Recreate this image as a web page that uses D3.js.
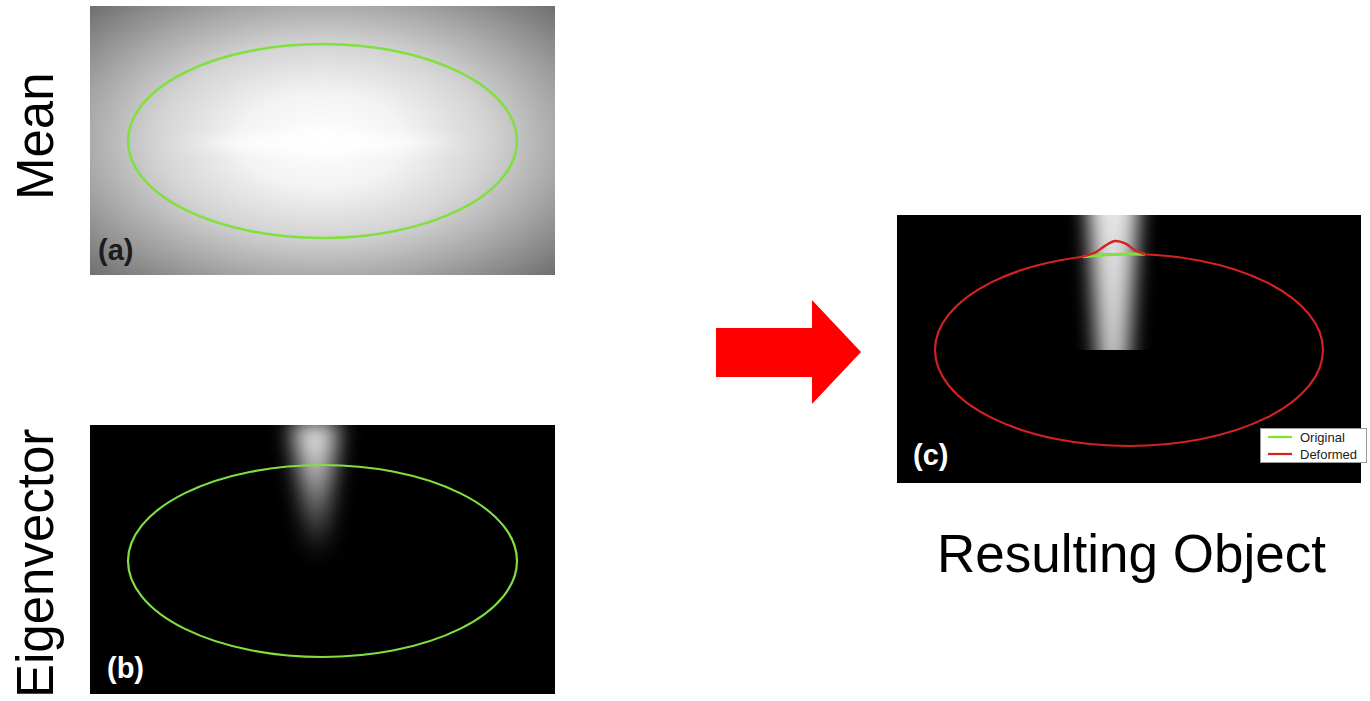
<!DOCTYPE html>
<html>
<head>
<meta charset="utf-8">
<script src="https://cdn.jsdelivr.net/npm/d3@7"></script>
<style>
  body { margin: 0; background: #fff; }
  svg { display: block; }
  text { font-family: "Liberation Sans", Arial, sans-serif; }
</style>
</head>
<body>
<svg id="fig" width="1370" height="701"></svg>
<script>
// shape model values, in units of the mean ellipse (centre 0,0, semi-axes 1)
const rowTitles = ['Mean', 'Eigenvector'];
const panelLabels = ['(a)', '(b)', '(c)'];
const meanShape = { cx: 0, cy: 0, rx: 1, ry: 1 };
// eigenvector intensity beam: centre x, top/bottom y and half widths
const eigenBeam = [
  { y: -1.45, x: -0.04, half: 0.12 },
  { y: -0.03, x: -0.025, half: 0.04 }
];
const resultBeam = [
  { y: -1.45, x: -0.082, half: 0.13 },
  { y: 0.0, x: -0.082, half: 0.085 }
];
// deformed contour bump on top of the ellipse
const bumpX = [-0.237, -0.17, -0.12, -0.072, -0.02, 0.03, 0.082];
const bumpY = [-0.972, -1.02, -1.09, -1.135, -1.11, -1.04, -0.997];
const legendNames = ['Original', 'Deformed'];
const resultTitle = 'Resulting Object';

const GREEN = '#7fe040';
const RED = '#d42222';

const svg = d3.select('#fig');
const defs = svg.append('defs');

// panel (a) background: grey vignette
const vignette = defs.append('radialGradient').attr('id', 'vignette')
  .attr('cx', '50%').attr('cy', '50%').attr('r', '71%');
[[0, '#ffffff'], [0.25, '#f3f3f3'], [0.5, '#d4d4d4'], [0.72, '#a8a8a8'], [1, '#6e6e6e']]
  .forEach(s => vignette.append('stop').attr('offset', s[0]).attr('stop-color', s[1]));

defs.append('filter').attr('id', 'soft').attr('x', '-60%').attr('y', '-50%')
  .attr('width', '220%').attr('height', '200%')
  .append('feGaussianBlur').attr('stdDeviation', 11);
defs.append('filter').attr('id', 'softX').attr('x', '-60%').attr('y', '-10%')
  .attr('width', '220%').attr('height', '120%')
  .append('feGaussianBlur').attr('stdDeviation', '10 0.6');
defs.append('filter').attr('id', 'streak').attr('x', '-50%').attr('y', '-100%')
  .attr('width', '200%').attr('height', '300%')
  .append('feGaussianBlur').attr('stdDeviation', '30 6');

const fade = defs.append('linearGradient').attr('id', 'fade')
  .attr('x1', 0).attr('y1', 0).attr('x2', 0).attr('y2', 1);
[[0, 0.95], [0.35, 0.7], [0.75, 0.28], [1, 0]]
  .forEach(s => fade.append('stop').attr('offset', s[0]).attr('stop-color', '#fff').attr('stop-opacity', s[1]));
const fadeC = defs.append('linearGradient').attr('id', 'fadeC')
  .attr('x1', 0).attr('y1', 0).attr('x2', 0).attr('y2', 1);
[[0, 0.9], [1, 0.78]]
  .forEach(s => fadeC.append('stop').attr('offset', s[0]).attr('stop-color', '#fff').attr('stop-opacity', s[1]));

// panel boxes in page pixels and the pixel position of the ellipse inside them
function makePanel(id, box, ell) {
  const x = d3.scaleLinear().domain([-1, 1]).range([ell.cx - ell.rx, ell.cx + ell.rx]);
  const y = d3.scaleLinear().domain([-1, 1]).range([ell.cy - ell.ry, ell.cy + ell.ry]);
  defs.append('clipPath').attr('id', 'clip-' + id)
    .append('rect').attr('x', box.x).attr('y', box.y).attr('width', box.w).attr('height', box.h);
  const g = svg.append('g').attr('clip-path', 'url(#clip-' + id + ')');
  return { g, x, y, box };
}

function drawBeam(p, beam, fill, filter) {
  const pts = [
    [p.x(beam[0].x - beam[0].half), p.y(beam[0].y)],
    [p.x(beam[0].x + beam[0].half), p.y(beam[0].y)],
    [p.x(beam[1].x + beam[1].half), p.y(beam[1].y)],
    [p.x(beam[1].x - beam[1].half), p.y(beam[1].y)]
  ];
  p.g.append('path')
    .attr('d', 'M' + pts.join('L') + 'Z')
    .attr('fill', fill)
    .attr('filter', filter);
}

function drawEllipse(p, color, width) {
  p.g.append('ellipse')
    .attr('cx', p.x(meanShape.cx)).attr('cy', p.y(meanShape.cy))
    .attr('rx', p.x(meanShape.rx) - p.x(0)).attr('ry', p.y(meanShape.ry) - p.y(0))
    .attr('fill', 'none').attr('stroke', color).attr('stroke-width', width);
}

function drawLabel(p, text, color, dx, dy) {
  p.g.append('text')
    .attr('x', p.box.x + dx).attr('y', p.box.y + p.box.h - dy)
    .attr('font-size', 29).attr('font-weight', 'bold')
    .attr('fill', color).text(text);
}

// (a) mean
const pa = makePanel('a', { x: 90, y: 6, w: 465, h: 269 }, { cx: 322.5, cy: 141, rx: 194.5, ry: 97 });
pa.g.append('rect').attr('x', 90).attr('y', 6).attr('width', 465).attr('height', 269).attr('fill', 'url(#vignette)');
pa.g.append('ellipse')
  .attr('cx', pa.x(0)).attr('cy', pa.y(0.02))
  .attr('rx', pa.x(0.55) - pa.x(0)).attr('ry', pa.y(0.1) - pa.y(0))
  .attr('fill', '#fff').attr('opacity', 0.9).attr('filter', 'url(#streak)');
drawEllipse(pa, GREEN, 2.6);
drawLabel(pa, panelLabels[0], '#1c1c1c', 8, 15);

// (b) eigenvector
const pb = makePanel('b', { x: 90, y: 425, w: 465, h: 269 }, { cx: 322.5, cy: 561, rx: 194.5, ry: 96 });
pb.g.append('rect').attr('x', 90).attr('y', 425).attr('width', 465).attr('height', 269).attr('fill', '#000');
drawBeam(pb, eigenBeam, 'url(#fade)', 'url(#soft)');
drawEllipse(pb, GREEN, 2.2);
drawLabel(pb, panelLabels[1], '#fff', 17, 16);

// (c) resulting object
const pc = makePanel('c', { x: 897, y: 215, w: 464, h: 268 }, { cx: 1129, cy: 350, rx: 194, ry: 96 });
pc.g.append('rect').attr('x', 897).attr('y', 215).attr('width', 464).attr('height', 268).attr('fill', '#000');
drawBeam(pc, resultBeam, 'url(#fadeC)', 'url(#softX)');
drawEllipse(pc, RED, 2.2);

// original contour where the bump sits
const arcStart = [pc.x(bumpX[0]), pc.y(bumpY[0])];
const arcEnd = [pc.x(bumpX[bumpX.length - 1]), pc.y(bumpY[bumpY.length - 1])];
pc.g.append('path')
  .attr('d', 'M' + arcStart + 'A' + (pc.x(1) - pc.x(0)) + ',' + (pc.y(1) - pc.y(0)) + ' 0 0 1 ' + arcEnd)
  .attr('fill', 'none').attr('stroke', GREEN).attr('stroke-width', 3);

const bumpLine = d3.line().x(d => pc.x(d[0])).y(d => pc.y(d[1])).curve(d3.curveCatmullRom);
pc.g.append('path')
  .attr('d', bumpLine(d3.zip(bumpX, bumpY)))
  .attr('fill', 'none').attr('stroke', RED).attr('stroke-width', 2.4);
drawLabel(pc, panelLabels[2], '#fff', 16, 18);

// legend
const legend = svg.append('g').attr('transform', 'translate(1260,428)');
legend.append('rect').attr('x', 0.5).attr('y', 0.5).attr('width', 106).attr('height', 34)
  .attr('fill', '#fff').attr('stroke', '#999');
legendNames.forEach((name, i) => {
  legend.append('line')
    .attr('x1', 8).attr('x2', 32).attr('y1', 9 + i * 17).attr('y2', 9 + i * 17)
    .attr('stroke', i === 0 ? GREEN : RED).attr('stroke-width', 2.2);
  legend.append('text')
    .attr('x', 40).attr('y', 14 + i * 17)
    .attr('font-size', 13).attr('fill', '#222').text(name);
});

// arrow
svg.append('path')
  .attr('d', 'M716,328L812,328L812,300L861,352L812,404L812,377L716,377Z')
  .attr('fill', '#ff0000');

// titles
svg.append('text').attr('transform', 'translate(53,200) rotate(-90)')
  .attr('font-size', 51).attr('fill', '#000').text(rowTitles[0]);
svg.append('text').attr('transform', 'translate(53,698) rotate(-90)')
  .attr('font-size', 51).attr('fill', '#000').text(rowTitles[1]);
svg.append('text').attr('x', 937).attr('y', 572)
  .attr('font-size', 53).attr('fill', '#000').text(resultTitle);
</script>
</body>
</html>
